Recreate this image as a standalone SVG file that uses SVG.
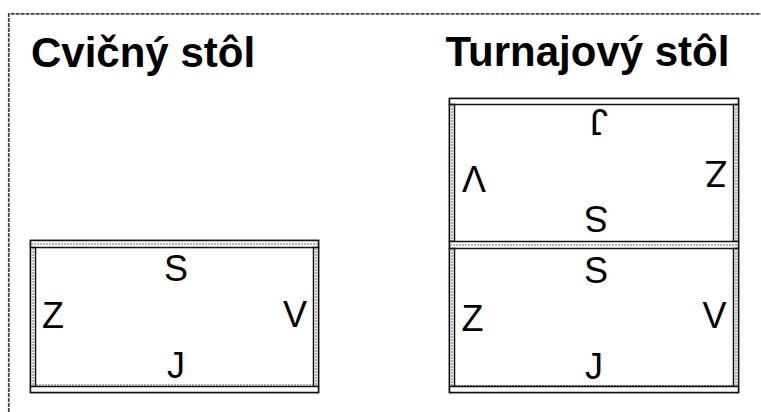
<svg xmlns="http://www.w3.org/2000/svg" width="761" height="412" viewBox="0 0 761 412">
<style>
.title{font-family:"Liberation Sans",Arial,sans-serif;font-weight:bold;font-size:42px;fill:#000}
.lbl{font-family:"Liberation Sans",Arial,sans-serif;font-size:36px;fill:#000;text-anchor:middle}
.frame{fill:#fff;stroke:#111;stroke-width:1.5}
.dash{fill:none;stroke:#666;stroke-width:1;stroke-dasharray:2 1}
.border{fill:none;stroke:#444;stroke-width:1.8;stroke-dasharray:4 1}
</style>
<rect width="761" height="412" fill="#fff"/>
<path class="border" d="M8.8 412 V13.8 H761"/>
<text class="title" x="31" y="66.5">Cvičný stôl</text>
<text class="title" x="445.5" y="66">Turnajový stôl</text>
<g id="cvicny-stol">
<rect class="frame" x="30.5" y="240.5" width="288" height="152"/>
<rect class="frame" x="30.5" y="240.5" width="288" height="7"/>
<line class="dash" x1="31" y1="244" x2="318" y2="244"/>
<rect class="frame" x="30.5" y="247.5" width="5" height="139"/>
<rect class="frame" x="313.5" y="247.5" width="5" height="139"/>
<line class="dash" x1="33" y1="248" x2="33" y2="386"/>
<line class="dash" x1="316" y1="248" x2="316" y2="386"/>
<line class="dash" x1="36" y1="385" x2="313" y2="385"/>
<rect class="frame" x="30.5" y="386.5" width="288" height="6"/>
<text class="lbl" x="176" y="281">S</text>
<text class="lbl" x="53" y="328">Z</text>
<text class="lbl" x="295" y="327">V</text>
<text class="lbl" x="176" y="378">J</text>
</g>
<g id="turnajovy-stol">
<rect class="frame" x="449.5" y="98.5" width="289" height="294"/>
<rect class="frame" x="449.5" y="98.5" width="289" height="6"/>
<rect class="frame" x="449.5" y="104.5" width="5" height="137"/>
<rect class="frame" x="733.5" y="104.5" width="5" height="137"/>
<line class="dash" x1="452" y1="105" x2="452" y2="241"/>
<line class="dash" x1="736" y1="105" x2="736" y2="241"/>
<rect class="frame" x="449.5" y="241.5" width="289" height="7"/>
<line class="dash" x1="450" y1="245" x2="738" y2="245"/>
<rect class="frame" x="449.5" y="248.5" width="5" height="138"/>
<rect class="frame" x="733.5" y="248.5" width="5" height="138"/>
<line class="dash" x1="452" y1="249" x2="452" y2="386"/>
<line class="dash" x1="736" y1="249" x2="736" y2="386"/>
<line class="dash" x1="455" y1="385.5" x2="733" y2="385.5"/>
<rect class="frame" x="449.5" y="386.5" width="289" height="6"/>
<text class="lbl" x="599" y="135" transform="rotate(180 599 122)">J</text>
<text class="lbl" x="596.5" y="232" transform="rotate(180 596.5 219)">S</text>
<text class="lbl" x="474" y="192" transform="rotate(180 474 179)">V</text>
<text class="lbl" x="716" y="187" transform="rotate(180 716 174)">Z</text>
<text class="lbl" x="596" y="283">S</text>
<text class="lbl" x="472.5" y="331">Z</text>
<text class="lbl" x="714.5" y="328">V</text>
<text class="lbl" x="594" y="379">J</text>
</g>
</svg>
